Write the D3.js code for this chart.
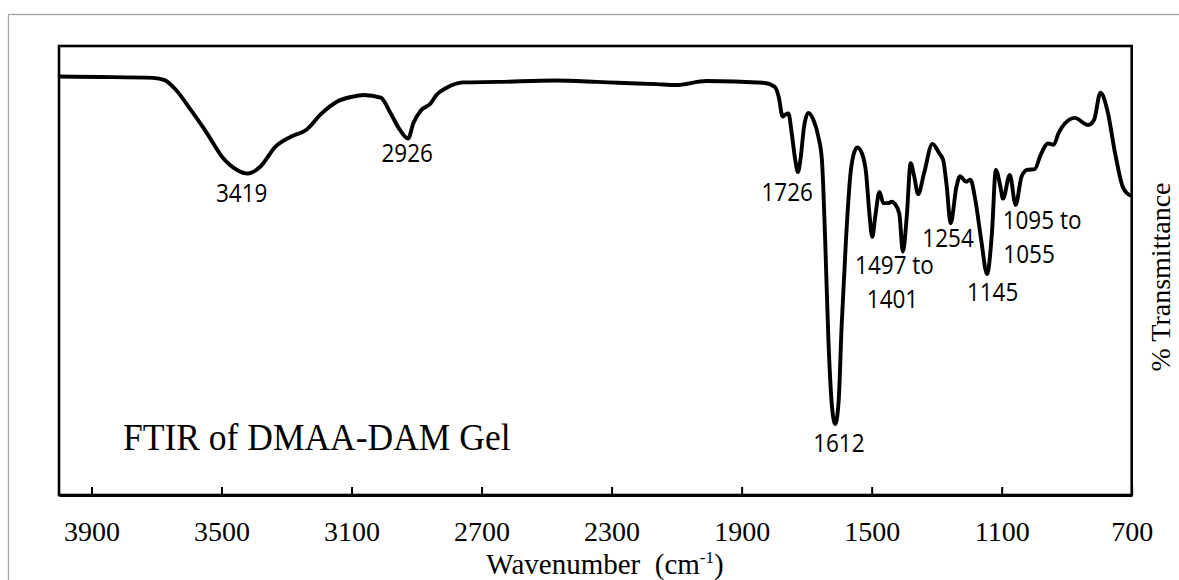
<!DOCTYPE html>
<html>
<head>
<meta charset="utf-8">
<script src="https://cdn.jsdelivr.net/npm/d3@7"></script>
<style>
  body { margin: 0; background: #fff; }
  svg { display: block; }
</style>
</head>
<body>
<div id="chart"></div>
<script>
// spectrum (cm-1, % transmittance on an arbitrary 0-100 scale)
var wavenumber = [4000, 3874, 3711, 3675, 3640, 3594, 3545, 3498, 3452, 3419, 3381, 3334, 3287, 3240,
    3192, 3145, 3098, 3063, 3010, 2980, 2951, 2926, 2910, 2886, 2857, 2839, 2810, 2757, 2651, 2474,
    2345, 2280, 2162, 2103, 2009, 1834, 1798, 1786, 1774, 1766, 1756, 1746, 1735, 1727, 1718, 1708,
    1695, 1679, 1664, 1653, 1643, 1633, 1622, 1612, 1602, 1592, 1579, 1566, 1556, 1544, 1530, 1517,
    1507, 1498, 1489, 1476, 1464, 1448, 1439, 1428, 1415, 1404, 1392, 1380, 1369, 1357, 1339, 1313,
    1292, 1280, 1269, 1257, 1239, 1228, 1210, 1196, 1181, 1163, 1145, 1130, 1118, 1104, 1096, 1075,
    1057, 1039, 1022, 998, 981, 957, 940, 925, 905, 875, 834, 816, 796, 775, 751, 728, 716, 700];
var transmittance = [93.2, 93.1, 92.9, 92.4, 90.2, 85.7, 80.6, 75.3, 72.4, 71.6, 73.1, 77.6, 79.8, 81.3,
    85.0, 87.6, 88.7, 89.1, 88.5, 85.0, 81.3, 79.4, 82.8, 85.7, 87.2, 89.1, 90.6, 91.9, 92.0, 92.3,
    92.0, 91.8, 91.5, 91.3, 92.2, 91.8, 90.9, 88.7, 84.3, 84.7, 85.0, 80.6, 74.6, 71.9, 75.3, 82.0,
    85.1, 83.5, 79.8, 74.6, 56.8, 34.5, 19.7, 15.8, 20.4, 38.2, 56.8, 70.9, 75.7, 77.4, 76.1, 71.6,
    62.7, 57.5, 62.0, 67.5, 65.0, 65.0, 65.3, 64.8, 62.7, 54.2, 62.0, 73.9, 70.9, 67.0, 71.6, 78.2,
    76.1, 74.6, 68.7, 60.5, 68.7, 71.0, 69.8, 70.2, 65.7, 56.8, 49.2, 58.3, 72.4, 68.7, 66.0, 71.3,
    64.6, 70.9, 72.4, 72.6, 75.6, 78.3, 78.0, 80.6, 82.8, 84.0, 82.4, 83.5, 89.6, 85.7, 76.1, 68.7, 67.3, 66.6];

var tickValues = [3900, 3500, 3100, 2700, 2300, 1900, 1500, 1100, 700];

// peak annotations: text, left edge (cm-1), baseline (% T)
var peakText = ['3419', '2926', '1726', '1612', '1497 to', '1401', '1254', '1145', '1095 to', '1055'];
var peakWn   = [3517, 3008, 1839, 1680, 1551, 1515, 1344, 1207, 1097, 1095];
var peakT    = [65.3, 74.1, 65.5, 9.6, 49.2, 41.6, 55.3, 43.1, 59.3, 51.6];

var svg = d3.select('#chart')
    .append('svg')
    .attr('width', 1179)
    .attr('height', 580)

// grey frame of the figure
svg.append('rect')
    .attr('x', 8.5)
    .attr('y', 14.5)
    .attr('width', 1250)
    .attr('height', 650)
    .attr('fill', 'none')
    .attr('stroke', '#a6a6a6')
    .attr('stroke-width', 1.3)

var boxLeft = 59, boxRight = 1131.7, boxTop = 46, boxBottom = 495;

var x = d3.scaleLinear()
    .domain([4000, 700])
    .range([boxLeft, boxRight])
var y = d3.scaleLinear()
    .domain([0, 100])
    .range([boxBottom, boxTop])

// plot box
svg.append('rect')
    .attr('x', boxLeft)
    .attr('y', boxTop)
    .attr('width', boxRight - boxLeft)
    .attr('height', boxBottom - boxTop)
    .attr('fill', 'none')
    .attr('stroke', '#000')
    .attr('stroke-width', 2.6)

// x axis, ticks pointing inwards
var xAxis = d3.axisBottom(x)
    .tickValues(tickValues)
    .tickSizeInner(-8)
    .tickSizeOuter(0)
    .tickFormat(d3.format('d'))

var gx = svg.append('g')
    .attr('transform', 'translate(0,' + boxBottom + ')')
    .call(xAxis)
gx.select('.domain').attr('stroke', '#000').attr('stroke-width', 3.2)
gx.selectAll('.tick line').attr('stroke', '#000').attr('stroke-width', 2)
gx.selectAll('.tick text')
    .attr('y', 46)
    .attr('dy', null)
    .attr('fill', '#000')
    .style('font-family', '"Liberation Serif", "Times New Roman", serif')
    .style('font-size', '28px')

// spectrum line
var line = d3.line()
    .x(function(d, i) { return x(wavenumber[i]); })
    .y(function(d, i) { return y(transmittance[i]); })
    .curve(d3.curveMonotoneX)

svg.append('path')
    .datum(wavenumber)
    .attr('d', line)
    .attr('fill', 'none')
    .attr('stroke', '#000')
    .attr('stroke-width', 3.9)
    .attr('stroke-linejoin', 'round')

// peak labels (slightly stretched vertically like the original)
svg.selectAll('text.peak')
    .data(peakText)
    .enter()
    .append('text')
    .attr('class', 'peak')
    .attr('transform', function(d, i) {
        return 'translate(' + x(peakWn[i]) + ',' + y(peakT[i]) + ') scale(1,1.1)';
    })
    .style('font-family', '"Open Sans", "Noto Sans", sans-serif')
    .style('font-size', '22.5px')
    .attr('fill', '#000')
    .text(function(d) { return d; })

// title inside the plot
svg.append('text')
    .attr('transform', 'translate(123,450) scale(1,1.06)')
    .style('font-family', '"Liberation Serif", "Times New Roman", serif')
    .style('font-size', '35.5px')
    .text('FTIR of DMAA-DAM Gel')

// axis titles
var xt = svg.append('text')
    .attr('x', 605)
    .attr('y', 574)
    .attr('text-anchor', 'middle')
    .style('font-family', '"Liberation Serif", "Times New Roman", serif')
    .style('font-size', '29px')
xt.append('tspan').text('Wavenumber\u00a0\u00a0(cm')
xt.append('tspan').attr('dy', -11).style('font-size', '17px').text('-1')
xt.append('tspan').attr('dy', 11).text(')')

svg.append('text')
    .attr('transform', 'translate(1170,277) rotate(-90)')
    .attr('text-anchor', 'middle')
    .style('font-family', '"Liberation Serif", "Times New Roman", serif')
    .style('font-size', '28px')
    .text('% Transmittance')
</script>
</body>
</html>
